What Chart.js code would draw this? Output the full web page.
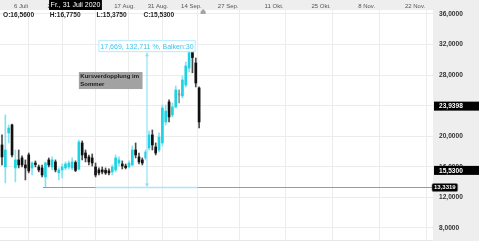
<!DOCTYPE html>
<html><head><meta charset="utf-8">
<script src="https://cdn.jsdelivr.net/npm/chart.js@4.4.1/dist/chart.umd.min.js"></script>
<style>html,body{margin:0;padding:0;background:#fff;overflow:hidden}#wrap{width:479px;height:241px;position:relative}</style>
</head><body><div id="wrap"><canvas id="c" width="479" height="241"></canvas></div>
<script>
const dates = ["2020-07-01","2020-07-02","2020-07-03",
"2020-07-06","2020-07-07","2020-07-08","2020-07-09","2020-07-10",
"2020-07-13","2020-07-14","2020-07-15","2020-07-16","2020-07-17",
"2020-07-20","2020-07-21","2020-07-22","2020-07-23","2020-07-24",
"2020-07-27","2020-07-28","2020-07-29","2020-07-30","2020-07-31",
"2020-08-03","2020-08-04","2020-08-05","2020-08-06","2020-08-07",
"2020-08-10","2020-08-11","2020-08-12","2020-08-13","2020-08-14",
"2020-08-17","2020-08-18","2020-08-19","2020-08-20","2020-08-21",
"2020-08-24","2020-08-25","2020-08-26","2020-08-27","2020-08-28",
"2020-08-31","2020-09-01","2020-09-02","2020-09-03","2020-09-04",
"2020-09-07","2020-09-08","2020-09-09","2020-09-10","2020-09-11",
"2020-09-14","2020-09-15","2020-09-16","2020-09-17","2020-09-18",
"2020-09-21","2020-09-22"];
const opens = [18.86,15.98,20.43,
21.48,15.85,16.9,17.16,16.24,
17.55,15.85,16.5,15.98,15.85,
14.67,16.9,15.98,16.64,15.2,
15.59,15.85,15.98,15.85,16.56,
15.7,19.12,17.81,17.29,17.16,
15.98,15.59,15.59,15.55,15.46,
15.33,15.59,16.5,16.37,16.1,
15.98,16.24,18.2,17.29,16.9,
17.16,18.47,20.17,18.6,18.2,
19.12,21.87,24.49,22.78,23.83,
25.45,25.27,26.71,28.93,31.03,
29.59,26.32];
const highs = [20.17,22.79,21.48,
21.6,18.2,18.2,17.42,16.9,
17.81,16.64,16.77,16.24,16.24,
16.64,17.16,17.29,16.9,15.85,
16.37,16.64,16.77,17.16,16.775,
19.51,19.38,18.2,17.55,17.68,
16.5,15.85,15.98,15.85,15.72,
16.24,17.55,17.29,16.77,16.37,
16.77,18.73,19.12,17.81,17.16,
18.2,20.69,20.82,19.12,20.43,
24.1,24.1,24.75,24.35,26.58,
26.06,27.89,29.72,31.29,31.4,
30.24,26.45];
const lows = [16.24,13.89,19.12,
17.29,14.02,15.85,15.98,14.28,
15.2,14.93,15.98,15.33,14.67,
13.3319,15.98,15.59,15.33,14.28,
14.54,15.59,15.72,15.59,15.375,
15.6,16.9,16.64,16.24,16.1,
14.67,14.93,15.07,15.0,14.93,
14.93,15.33,16.1,15.72,15.72,
15.85,16.1,17.16,16.37,16.24,
16.9,18.2,18.2,17.55,17.94,
18.73,21.48,21.87,22.52,23.7,
24.35,25.0,26.45,28.41,28.3,
26.45,21.08];
const closes = [17.29,18.2,21.08,
17.55,16.9,16.24,16.24,15.85,
15.46,16.5,16.3,15.59,14.93,
16.5,16.24,16.9,15.59,15.59,
15.98,16.37,16.5,16.64,15.53,
19.25,17.55,17.16,16.64,16.5,
14.93,15.2,15.33,15.2,15.2,
15.98,17.16,16.9,16.1,15.9,
16.5,18.2,17.55,16.64,16.5,
17.94,20.17,18.86,17.81,19.9,
23.7,23.3,22.52,23.83,26.06,
25.4,27.36,29.2,31.03,30.3,
26.97,21.87];
const tickDates = ["2020-07-06","2020-07-20","2020-08-03","2020-08-17","2020-08-31","2020-09-14","2020-09-27","2020-10-11","2020-10-25","2020-11-08","2020-11-22"];
const tickLabels = ["6 Juli","20 Juli","3 Aug.","17 Aug.","31 Aug.","14 Sep.","27 Sep.","11 Okt.","25 Okt.","8 Nov.","22 Nov."];
const yTicks = [8,12,16,20,24,28,32,36];
const lastPrice = 23.9398;
const crossDate = "2020-07-31";
const lowDate = "2020-07-20";
const lowLevel = 13.3319;
const measureStartDate = "2020-08-10";
const measureBars = 30;
const measureChange = 17.669;
const measurePct = 132.711;
const noteLines = ["Kursverdopplung im","Sommer"];
const noteDate = "2020-08-03", noteValue = 28.4;

const F = '"Liberation Sans", Arial, sans-serif';
const N = dates.length, lastIdx = N - 1;
function dayDiff(a, b) { return Math.round((Date.parse(b) - Date.parse(a)) / 86400000); }
function posOf(d) { const i = dates.indexOf(d); return i >= 0 ? i : lastIdx + dayDiff(dates[lastIdx], d); }
const tickPos = tickDates.map(posOf);
const de = (v, n) => v.toFixed(n).replace('.', ',');

const UP = '#1dd3e3', UPW = '#84e3ee', DN = '#111111', DNW = '#4a4a4a', FLAT = '#8f8f8f';
function col(i, wick) {
  const d = closes[i] - opens[i];
  if (Math.abs(d) < 0.1) return FLAT;
  return d > 0 ? (wick ? UPW : UP) : (wick ? DNW : DN);
}
const wickData = dates.map((d, i) => ({ x: i, y: [lows[i], highs[i]] }));
const bodyData = dates.map((d, i) => ({ x: i, y: [opens[i], closes[i]] }));

function box(ctx, x, y, w, h, fill, stroke) {
  ctx.fillStyle = fill; ctx.fillRect(x, y, w, h);
  if (stroke) { ctx.strokeStyle = stroke; ctx.lineWidth = 1; ctx.strokeRect(x + 0.5, y + 0.5, w - 1, h - 1); }
}

const bgPlugin = {
  id: 'bg',
  beforeDraw(chart) {
    const ctx = chart.ctx, a = chart.chartArea;
    ctx.save();
    ctx.fillStyle = '#ffffff'; ctx.fillRect(0, 0, chart.width, chart.height);
    ctx.fillStyle = '#eeeeee';
    ctx.fillRect(0, 0, chart.width, a.top);
    ctx.fillRect(a.right, a.top, chart.width - a.right, chart.height - a.top);
    ctx.restore();
  }
};

const overlay = {
  id: 'overlay',
  afterDraw(chart) {
    const ctx = chart.ctx, a = chart.chartArea;
    const xs = chart.scales.x, ys = chart.scales.y;
    ctx.save();
    ctx.textBaseline = 'middle';
    // horizontal low line
    const yLow = Math.round(ys.getPixelForValue(lowLevel)) + 0.5;
    const xLow = xs.getPixelForValue(posOf(lowDate)) - 2.5;
    const mStart = posOf(measureStartDate), mEnd = mStart + measureBars;
    const xm1 = xs.getPixelForValue(mStart), xm2 = xs.getPixelForValue(mEnd) + 2;
    ctx.strokeStyle = '#9a9a9a'; ctx.lineWidth = 1;
    ctx.beginPath(); ctx.moveTo(xLow, yLow); ctx.lineTo(a.right, yLow); ctx.stroke();
    ctx.strokeStyle = '#a8e7f7'; ctx.lineWidth = 1.5;
    ctx.beginPath(); ctx.moveTo(xm1, yLow); ctx.lineTo(xm2, yLow); ctx.stroke();
    // measure vertical
    const xmid = Math.round(xs.getPixelForValue((mStart + mEnd) / 2)) + 1;
    const yTop = ys.getPixelForValue(lowLevel + measureChange);
    ctx.beginPath(); ctx.moveTo(xmid, yTop); ctx.lineTo(xmid, yLow - 1); ctx.stroke();
    ctx.fillStyle = '#8fdcf3';
    ctx.beginPath(); ctx.moveTo(xmid - 2, yLow - 4); ctx.lineTo(xmid + 2, yLow - 4); ctx.lineTo(xmid, yLow - 1); ctx.closePath(); ctx.fill();
    ctx.beginPath(); ctx.moveTo(xmid - 2, yTop + 4); ctx.lineTo(xmid + 2, yTop + 4); ctx.lineTo(xmid, yTop + 1); ctx.closePath(); ctx.fill();
    // measure label
    ctx.font = '7px ' + F;
    const mt = de(measureChange, 3) + ', ' + de(measurePct, 3) + ' %, Balken:' + measureBars;
    const mw = ctx.measureText(mt).width + 4;
    box(ctx, xmid - mw / 2, yTop - 12, mw, 12, '#ffffff', '#b6ebf8');
    ctx.fillStyle = '#3ec3ec'; ctx.textAlign = 'center';
    ctx.fillText(mt, xmid, yTop - 5.5);
    // note
    ctx.font = 'bold 6px ' + F;
    const nx = xs.getPixelForValue(posOf(noteDate)), ny = ys.getPixelForValue(noteValue);
    const nw = Math.max(...noteLines.map(t => ctx.measureText(t).width)) + 5;
    box(ctx, nx, ny, nw, 17, '#a2a2a2');
    ctx.fillStyle = '#1a1a1a'; ctx.textAlign = 'left';
    noteLines.forEach((t, k) => ctx.fillText(t, nx + 1.5, ny + 4.5 + k * 7.5));
    // OHLC text
    const ci = posOf(crossDate);
    const parts = [['O:', opens[ci]], ['H:', highs[ci]], ['L:', lows[ci]], ['C:', closes[ci]]];
    ctx.font = 'bold 6.6px ' + F; ctx.fillStyle = '#1e1e1e';
    parts.forEach((p, k) => ctx.fillText(p[0] + de(p[1], 4), 3 + k * 46.8, a.top + 5.5));
    // crosshair date label
    const dd = new Date(crossDate + 'T12:00:00');
    const wd = ['So.', 'Mo.', 'Di.', 'Mi.', 'Do.', 'Fr.', 'Sa.'][dd.getDay()];
    const mn = ['Jan.', 'Feb.', 'März', 'April', 'Mai', 'Juni', 'Juli', 'Aug.', 'Sep.', 'Okt.', 'Nov.', 'Dez.'][dd.getMonth()];
    const ct = wd + ', ' + dd.getDate() + ' ' + mn + ' ' + dd.getFullYear();
    ctx.font = '7px ' + F;
    const cw = ctx.measureText(ct).width + 3;
    const cx = xs.getPixelForValue(ci);
    box(ctx, cx - cw / 2, 0, cw, a.top, '#000000');
    ctx.fillStyle = '#ffffff'; ctx.textAlign = 'center';
    ctx.fillText(ct, cx, a.top / 2 + 0.5);
    // last-bar marker icon
    const lx = xs.getPixelForValue(lastIdx) + 4;
    ctx.fillStyle = '#a5a5a5';
    ctx.beginPath(); ctx.moveTo(lx - 2.5, a.top + 4); ctx.lineTo(lx - 2.5, a.top + 1.5); ctx.lineTo(lx, a.top - 1); ctx.lineTo(lx + 2.5, a.top + 1.5); ctx.lineTo(lx + 2.5, a.top + 4); ctx.closePath(); ctx.fill();
    // right value boxes
    ctx.textAlign = 'left';
    ctx.font = 'bold 6.6px ' + F;
    [lastPrice, closes[ci]].forEach(v => {
      const yy = ys.getPixelForValue(v);
      box(ctx, a.right + 1, yy - 4.5, chart.width - a.right - 1, 9, '#000000');
      ctx.fillStyle = '#ffffff'; ctx.fillText(de(v, 4), a.right + 6, yy + 0.3);
    });
    ctx.font = 'bold 6px ' + F;
    const lt = de(lowLevel, 4), lw = ctx.measureText(lt).width + 4;
    ctx.fillStyle = '#000000';
    ctx.beginPath(); ctx.roundRect(a.right - 1, yLow - 4, lw, 8, 1.5); ctx.fill();
    ctx.strokeStyle = '#777'; ctx.lineWidth = 0.6; ctx.stroke();
    ctx.fillStyle = '#ffffff'; ctx.fillText(lt, a.right + 1, yLow + 0.2);
    // bottom edge
    ctx.fillStyle = '#e6e6e6'; ctx.fillRect(0, chart.height - 1, a.right, 1);
    ctx.restore();
  }
};

new Chart(document.getElementById('c'), {
  type: 'bar',
  data: {
    datasets: [
      { data: wickData, backgroundColor: dates.map((d, i) => col(i, true)), barThickness: 1, grouped: false, minBarLength: 1, order: 2 },
      { data: bodyData, backgroundColor: dates.map((d, i) => col(i, false)), barThickness: 2, grouped: false, minBarLength: 1, order: 1 }
    ]
  },
  options: {
    responsive: false, animation: false, events: [],
    layout: { padding: 0 },
    plugins: { legend: { display: false }, tooltip: { enabled: false } },
    scales: {
      x: {
        type: 'linear', position: 'top', min: -0.6, max: 129.0, offset: false,
        grid: { color: '#ececec', lineWidth: 1, drawTicks: false }, border: { display: false },
        ticks: { autoSkip: false, maxRotation: 0, align: 'start', labelOffset: 2, padding: 0, color: '#555', font: { family: F, size: 6 }, callback: (v, i) => tickLabels[i] },
        afterBuildTicks: s => { s.ticks = tickPos.map(v => ({ value: v })); },
        afterFit: s => { s.height = 10; s.paddingLeft = 0; s.paddingRight = 0; }
      },
      y: {
        type: 'linear', position: 'right', min: 6.29, max: 36.52,
        grid: { color: '#ececec', lineWidth: 1, drawTicks: true, tickLength: 6, tickColor: 'rgba(0,0,0,0)' }, border: { display: false },
        ticks: { padding: 0, color: '#333', font: { family: F, size: 6.6, weight: 'bold' }, callback: v => de(v, 4) },
        afterBuildTicks: s => { s.ticks = yTicks.map(v => ({ value: v })); },
        afterFit: s => { s.width = 46; s.paddingTop = 0; s.paddingBottom = 0; }
      }
    }
  },
  plugins: [bgPlugin, overlay]
});
</script></body></html>
